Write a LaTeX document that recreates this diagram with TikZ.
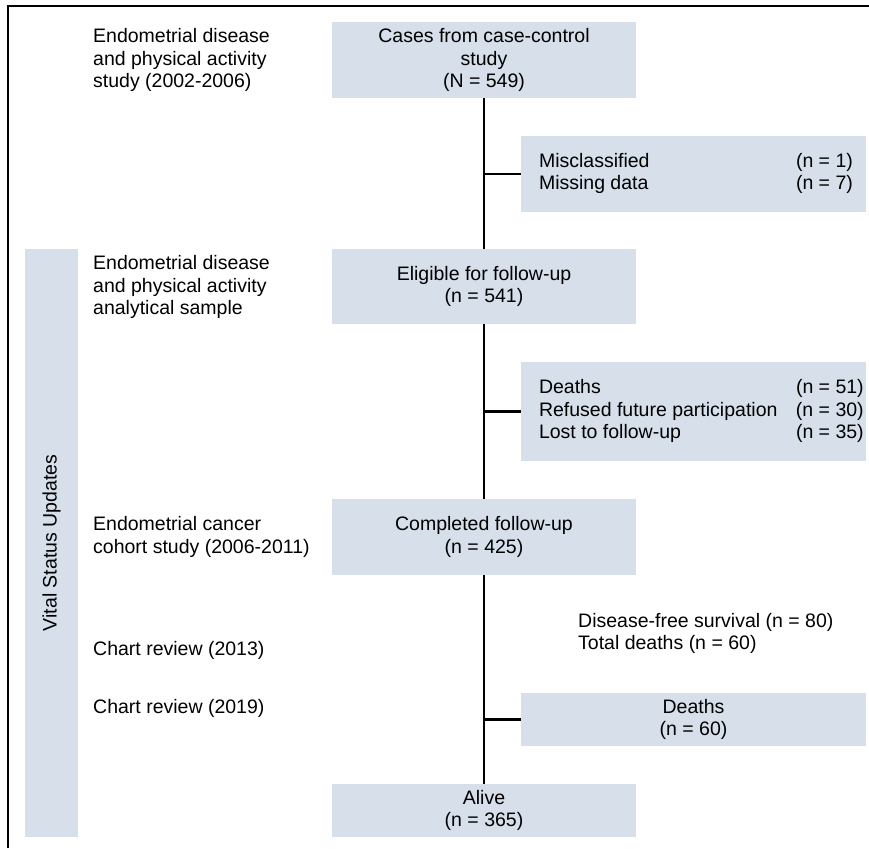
\documentclass[tikz,border=0pt]{standalone}
\usepackage{fontspec}
\setmainfont{Liberation Sans}
\usepackage{tikz}
\usetikzlibrary{positioning}
\definecolor{boxcol}{RGB}{214,223,234}

\begin{document}
\begin{tikzpicture}[x=1pt,y=-1pt,
  every node/.style={font=\fontsize{19.5}{22.5}\selectfont,inner sep=0pt},
  box/.style={fill=boxcol,minimum width=304pt,align=center},
  side/.style={fill=boxcol,minimum width=345pt,align=center},
  lbl/.style={anchor=west,align=left},
  vline/.style={line width=1.4pt},
  hline/.style={line width=2.4pt}]
  \useasboundingbox (0,0) rectangle (869,848);
  \draw[line width=1.2pt] (8,848) -- (8,6) -- (869,6);
  % left column
  \node[fill=boxcol,rotate=90,minimum width=588pt,minimum height=53pt] (vsu) at (51.5,543) {Vital Status Updates};
  \node[lbl] (study) at (93,60) {Endometrial disease\\and physical activity\\study (2002-2006)};
  \node[lbl] (sample) at (93,287) {Endometrial disease\\and physical activity\\analytical sample};
  \node[lbl] (cohort) at (93,537) {Endometrial cancer\\cohort study (2006-2011)};
  \node[lbl] (chart13) at (93,650) {Chart review (2013)};
  \node[lbl] (chart19) at (93,708) {Chart review (2019)};
  % main flow
  \node[box,minimum height=76pt] (cases) at (484,60) {Cases from case-control\\study\\(N = 549)};
  \node[box,minimum height=75pt] (elig) at (484,286.5) {Eligible for follow-up\\(n = 541)};
  \node[box,minimum height=76pt] (compl) at (484,537) {Completed follow-up\\(n = 425)};
  \node[box,minimum height=53pt] (alive) at (484,810.5) {Alive\\(n = 365)};
  % exclusions
  \node[side,minimum height=76pt] (mis) at (693.5,174) {};
  \node[lbl,right=18pt of mis.west] (mistxt)
    {\begin{tabular}{@{}p{257pt}@{}l@{}}Misclassified & (n = 1)\\Missing data & (n = 7)\end{tabular}};
  \node[side,minimum height=99pt] (loss) at (693.5,411.5) {};
  \node[lbl,right=18pt of loss.west] (losstxt)
    {\begin{tabular}{@{}p{257pt}@{}l@{}}Deaths & (n = 51)\\Refused future participation & (n = 30)\\Lost to follow-up & (n = 35)\end{tabular}};
  \node[lbl] (dfs) at (578,633.5) {Disease-free survival (n = 80)\\Total deaths (n = 60)};
  \node[side,minimum height=53pt] (dead) at (693.5,719.5) {Deaths\\(n = 60)};
  % connectors
  \draw[vline] (cases) -- (elig);
  \draw[vline] (elig) -- (compl);
  \draw[vline] (compl) -- (alive);
  \draw[hline] (mis.west) -- (mis.west -| cases.south);
  \draw[hline] (loss.west) -- (loss.west -| cases.south);
  \draw[hline] (dead.west) -- (dead.west -| cases.south);
\end{tikzpicture}
\end{document}
